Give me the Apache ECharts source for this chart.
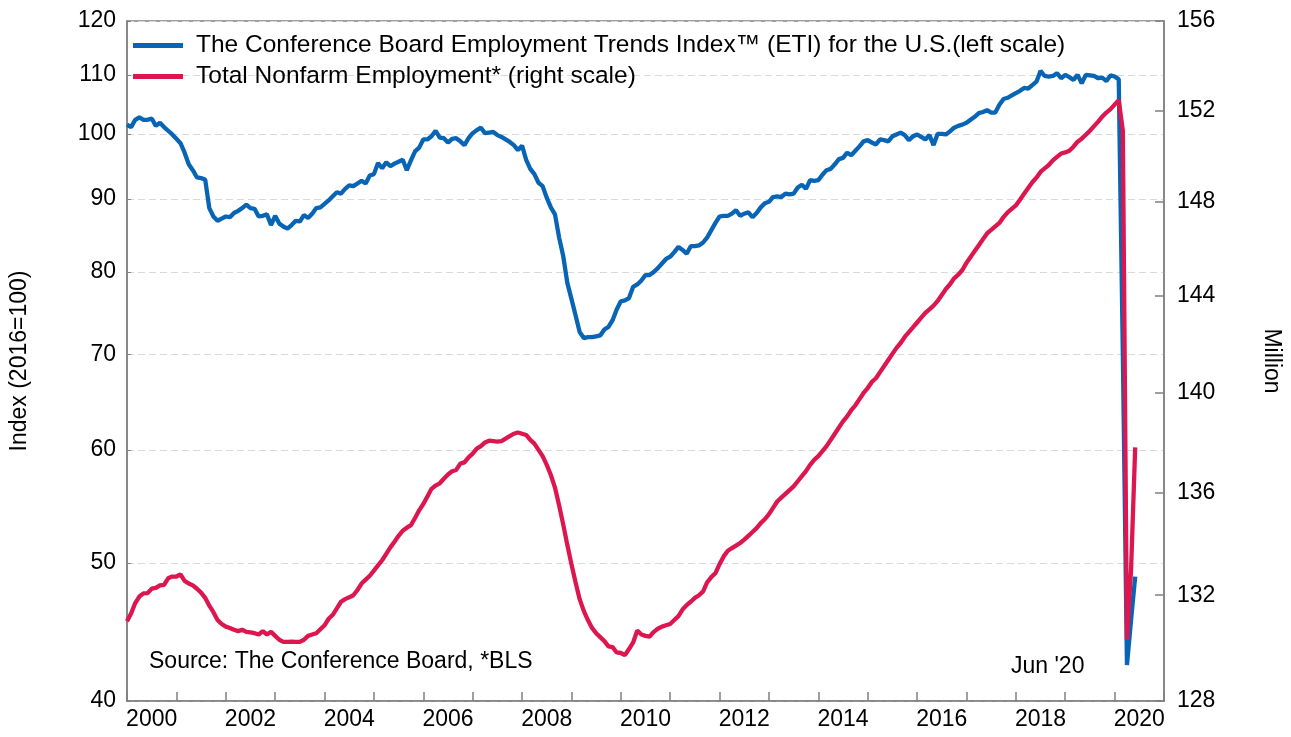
<!DOCTYPE html>
<html>
<head>
<meta charset="utf-8">
<title>Employment Trends Index</title>
<script src="https://cdn.jsdelivr.net/npm/echarts@6/dist/echarts.min.js"></script>
<style>
  html, body { margin: 0; padding: 0; background: #fff; }
  #chart { width: 1291px; height: 737px; }
</style>
</head>
<body>
<div id="chart"></div>
<script>
// monthly, Jan 2000 .. Jun 2020
const startYear = 2000

const etiValues = [
  101.5, 101.1, 102.3, 102.7, 102.3, 102.3, 102.5, 101.3, 101.8, 101.1, 100.5, 99.9,
  99.2, 98.5, 97.0, 95.2, 94.3, 93.2, 93.1, 92.9, 88.7, 87.5, 86.9, 87.2,
  87.5, 87.4, 88.0, 88.3, 88.7, 89.2, 88.7, 88.6, 87.5, 87.6, 87.8, 86.3,
  87.6, 86.5, 86.1, 85.8, 86.3, 86.9, 86.8, 87.7, 87.3, 87.9, 88.7, 88.8,
  89.3, 89.8, 90.4, 91.0, 90.8, 91.5, 92.0, 91.9, 92.3, 92.7, 92.3, 93.5,
  93.7, 95.4, 94.6, 95.5, 94.9, 95.3, 95.6, 95.9, 94.3, 95.8, 97.2, 97.8,
  99.1, 99.1, 99.6, 100.5, 99.4, 99.3, 98.6, 99.2, 99.3, 98.8, 98.2, 99.3,
  100.1, 100.6, 101.0, 100.1, 100.2, 100.3, 99.8, 99.5, 99.1, 98.7, 98.2, 97.4,
  98.1, 95.9, 94.5, 93.7, 92.4, 91.9, 90.2, 88.8, 87.8, 84.6, 82.1, 78.6,
  76.6, 74.6, 72.6, 71.9, 72.0, 72.0, 72.1, 72.2, 72.9, 73.2, 74.0, 75.3,
  76.3, 76.4, 76.7, 78.1, 78.4, 78.9, 79.6, 79.6, 80.0, 80.5, 81.1, 81.7,
  82.0, 82.6, 83.3, 82.9, 82.4, 83.4, 83.4, 83.5, 83.9, 84.6, 85.6, 86.6,
  87.5, 87.6, 87.6, 87.9, 88.4, 87.6, 87.9, 88.1, 87.4, 88.0, 88.8, 89.4,
  89.6, 90.3, 90.4, 90.3, 90.8, 90.7, 90.8, 91.7, 92.1, 91.5, 92.8, 92.7,
  92.8, 93.6, 94.3, 94.5, 95.2, 96.0, 96.2, 97.0, 96.6, 97.3, 98.0, 98.8,
  99.0, 98.6, 98.3, 99.1, 99.0, 98.8, 99.6, 99.9, 100.2, 99.8, 99.0, 99.6,
  99.9, 99.5, 99.1, 99.8, 98.2, 100.0, 100.0, 99.9, 100.4, 101.0, 101.3, 101.5,
  101.8, 102.3, 102.8, 103.4, 103.6, 103.9, 103.5, 103.5, 104.8, 105.8, 106.0, 106.4,
  106.8, 107.2, 107.7, 107.6, 108.2, 108.8, 110.7, 109.8, 109.7, 109.8, 110.3, 109.4,
  110.0, 109.6, 109.1, 110.0, 108.5, 110.0, 109.9, 109.8, 109.4, 109.5, 108.9, 109.9,
  109.7, 109.2, 70.0, 42.4, 45.6, 48.9
]

// millions
const nonfarmValues = [
  131.0, 131.3, 131.7, 131.95, 132.07, 132.08, 132.25, 132.28, 132.38, 132.4, 132.65, 132.72,
  132.72, 132.8, 132.55, 132.45, 132.38, 132.25, 132.1, 131.9, 131.6, 131.35, 131.05, 130.9,
  130.8, 130.75, 130.68, 130.63, 130.68, 130.6, 130.58, 130.55, 130.5, 130.63, 130.5, 130.6,
  130.45, 130.3, 130.22, 130.22, 130.23, 130.22, 130.22, 130.3, 130.45, 130.5, 130.55, 130.7,
  130.85, 131.1, 131.25, 131.5, 131.75, 131.85, 131.92, 132.0, 132.2, 132.45, 132.6, 132.75,
  132.95, 133.15, 133.35, 133.6, 133.85, 134.07, 134.3, 134.5, 134.62, 134.72, 135.0, 135.3,
  135.55, 135.85, 136.15, 136.28, 136.37, 136.55, 136.72, 136.85, 136.9, 137.15, 137.2, 137.4,
  137.55, 137.75, 137.85, 138.0, 138.07, 138.05, 138.03, 138.05, 138.15, 138.25, 138.35, 138.4,
  138.35, 138.3, 138.1, 137.95, 137.7, 137.45, 137.1, 136.7, 136.2, 135.5, 134.75, 133.95,
  133.2, 132.5, 131.85, 131.4, 131.05, 130.75, 130.55, 130.4, 130.25, 130.05, 130.02, 129.82,
  129.8, 129.72, 129.95, 130.2, 130.65, 130.5, 130.45, 130.42, 130.6, 130.72, 130.8, 130.85,
  130.9, 131.05, 131.2, 131.45, 131.62, 131.75, 131.9, 132.0, 132.15, 132.5, 132.7, 132.85,
  133.2, 133.5, 133.72, 133.82, 133.92, 134.02, 134.15, 134.3, 134.45, 134.6, 134.8, 134.95,
  135.15, 135.4, 135.65, 135.8, 135.95, 136.1, 136.25, 136.45, 136.65, 136.85, 137.1, 137.3,
  137.45, 137.65, 137.85, 138.1, 138.35, 138.6, 138.85, 139.05, 139.3, 139.5, 139.75, 140.0,
  140.2, 140.45, 140.6, 140.85, 141.1, 141.35, 141.6, 141.85, 142.05, 142.3, 142.5, 142.7,
  142.9, 143.1, 143.3, 143.45, 143.6, 143.8, 144.05, 144.3, 144.5, 144.75, 144.9, 145.1,
  145.4, 145.65, 145.9, 146.15, 146.4, 146.65, 146.8, 146.95, 147.1, 147.35, 147.55, 147.7,
  147.85, 148.1, 148.35, 148.6, 148.85, 149.05, 149.3, 149.45, 149.6, 149.8, 149.95, 150.1,
  150.15, 150.22, 150.4, 150.62, 150.75, 150.92, 151.1, 151.3, 151.5, 151.72, 151.9, 152.05,
  152.25, 152.45, 151.1, 130.3, 133.0, 137.8
]

const yearLabels = [2000, 2002, 2004, 2006, 2008, 2010, 2012, 2014, 2016, 2018, 2020]
const leftTicks = [40, 50, 60, 70, 80, 90, 100, 110, 120]
const rightTicks = [128, 132, 136, 140, 144, 148, 152, 156]

const etiName = 'The Conference Board Employment Trends Index™ (ETI) for the U.S.(left scale)'
const nonfarmName = 'Total Nonfarm Employment* (right scale)'

const toPoints = arr => arr.map((v, i) => [startYear + i / 12, v])

const font = 'Arial, "Liberation Sans", sans-serif'
const axisColor = '#808080'
const textColor = '#000'

const chart = echarts.init(document.getElementById('chart'))

const option = {
  animation: false,
  backgroundColor: '#fff',
  textStyle: { fontFamily: font },
  grid: {
    left: 126,
    right: 126,
    top: 21,
    bottom: 36,
    show: true,
    borderColor: axisColor,
    borderWidth: 1.5
  },
  legend: {
    left: 133,
    top: 33,
    orient: 'vertical',
    icon: 'rect',
    itemWidth: 50,
    itemHeight: 5,
    itemGap: 6,
    padding: 0,
    textStyle: {
      fontSize: 24.5,
      color: textColor,
      fontFamily: font,
      padding: [0, 0, 0, 8]
    },
    data: [etiName, nonfarmName]
  },
  xAxis: {
    type: 'value',
    min: 2000,
    max: 2021,
    interval: 1,
    axisLine: { lineStyle: { color: axisColor, width: 1.5 } },
    axisTick: { inside: true, length: 9, lineStyle: { color: axisColor, width: 1.5 } },
    axisLabel: {
      customValues: yearLabels.map(y => y + 0.5),
      formatter: v => String(Math.floor(v)),
      fontSize: 23,
      color: textColor,
      margin: 7
    },
    splitLine: { show: false }
  },
  yAxis: [
    {
      type: 'log',
      logBase: 10,
      min: 40,
      max: 120,
      name: 'Index (2016=100)',
      nameLocation: 'middle',
      nameRotate: 90,
      nameGap: 96,
      nameTextStyle: { fontSize: 23, color: textColor },
      axisLine: { show: true, lineStyle: { color: axisColor, width: 1.5 } },
      axisTick: {
        show: true,
        inside: true,
        length: 4,
        customValues: leftTicks,
        lineStyle: { color: axisColor }
      },
      axisLabel: {
        customValues: leftTicks,
        formatter: v => String(Math.round(v)),
        fontSize: 23,
        color: textColor,
        margin: 11
      },
      splitLine: {
        show: true,
        lineStyle: { color: '#d9d9d9', type: [7, 4], width: 1.2 }
      }
    },
    {
      type: 'log',
      logBase: 10,
      min: 128,
      max: 156,
      position: 'right',
      name: 'Million',
      nameLocation: 'middle',
      nameRotate: -90,
      nameGap: 96,
      nameTextStyle: { fontSize: 23, color: textColor },
      axisLine: { show: true, lineStyle: { color: axisColor, width: 1.5 } },
      axisTick: {
        show: true,
        inside: true,
        length: 9,
        customValues: rightTicks,
        lineStyle: { color: axisColor, width: 1.5 }
      },
      axisLabel: {
        customValues: rightTicks,
        formatter: v => String(Math.round(v)),
        fontSize: 23,
        color: textColor,
        margin: 13
      },
      splitLine: { show: false }
    }
  ],
  series: [
    {
      name: etiName,
      type: 'line',
      yAxisIndex: 0,
      data: toPoints(etiValues),
      showSymbol: false,
      color: '#0864b4',
      lineStyle: { width: 4.3, color: '#0864b4' }
    },
    {
      name: nonfarmName,
      type: 'line',
      yAxisIndex: 1,
      data: toPoints(nonfarmValues),
      showSymbol: false,
      color: '#dc174f',
      lineStyle: { width: 4.3, color: '#dc174f' }
    }
  ],
  graphic: [
    {
      type: 'text',
      left: 149,
      top: 650,
      style: { text: 'Source: The Conference Board, *BLS', font: '23px ' + font, fill: textColor }
    },
    {
      type: 'text',
      left: 1011,
      top: 655,
      style: { text: "Jun '20", font: '23px ' + font, fill: textColor }
    }
  ]
}

chart.setOption(option)
</script>
</body>
</html>
